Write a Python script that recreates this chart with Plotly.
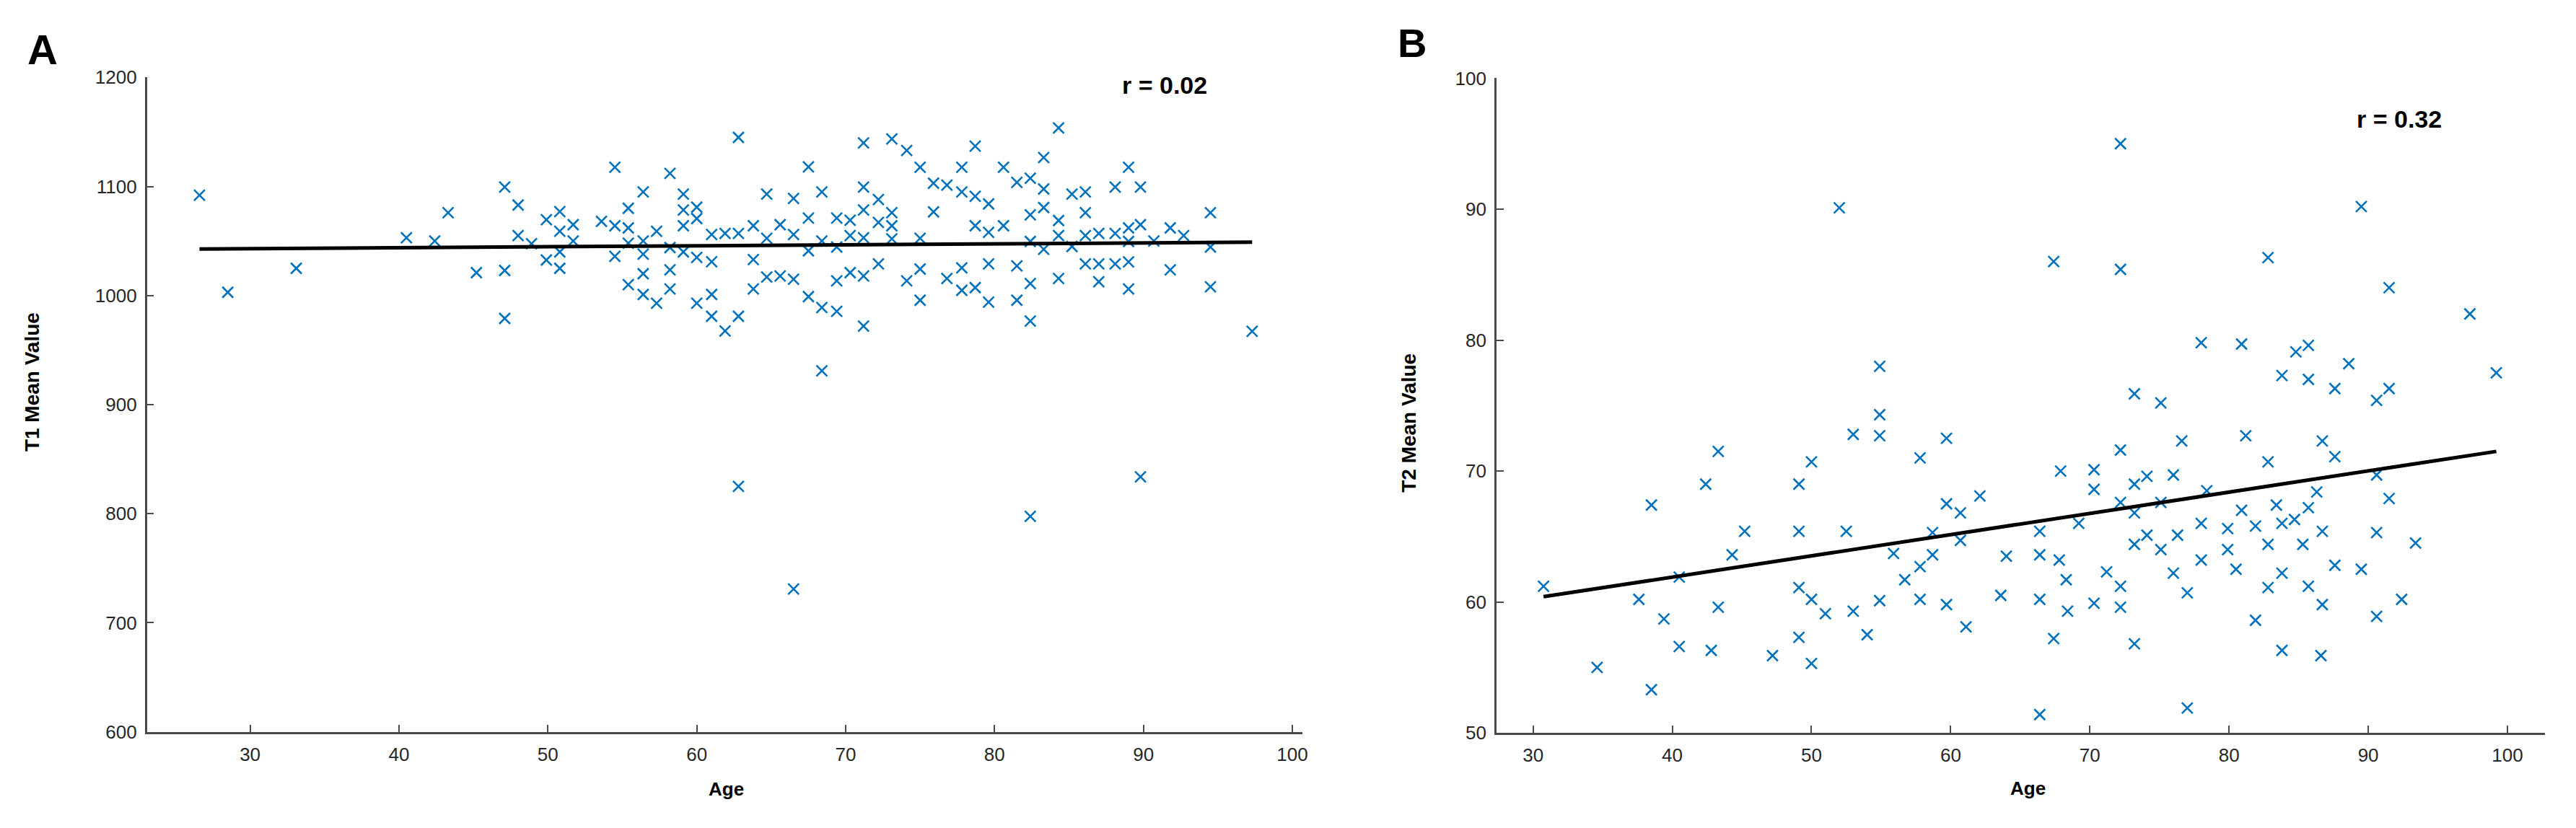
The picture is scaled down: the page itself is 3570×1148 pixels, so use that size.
import plotly.graph_objects as go

W, H = 3570, 1148

# panel A: age vs T1 mean value
age_a = [
    26.6, 28.5, 33.1, 40.5, 42.4, 43.3, 45.2, 47.1, 47.1, 47.1, 48.0, 48.0, 48.9,
    49.9, 49.9, 50.8, 50.8, 50.8, 50.8, 51.7, 51.7, 53.6, 54.5, 54.5, 54.5,
    55.4, 55.4, 55.4, 55.4, 56.4, 56.4, 56.4, 56.4, 56.4, 57.3, 57.3,
    58.2, 58.2, 58.2, 58.2, 59.1, 59.1, 59.1, 59.1, 60.0, 60.0, 60.0, 60.0,
    61.0, 61.0, 61.0, 61.0, 61.9, 61.9, 62.8, 62.8, 62.8, 62.8,
    63.8, 63.8, 63.8, 64.7, 64.7, 64.7, 65.6, 65.6, 66.5, 66.5, 66.5, 66.5,
    67.5, 67.5, 67.5, 67.5, 68.4, 68.4, 68.4, 68.4, 69.4, 69.4, 69.4, 69.4,
    70.3, 70.3, 70.3, 71.2, 71.2, 71.2, 71.2, 71.2, 71.2, 72.2, 72.2, 72.2,
    73.1, 73.1, 73.1, 73.1, 74.1, 74.1, 75.0, 75.0, 75.0, 75.0, 75.9, 75.9,
    76.8, 76.8, 77.8, 77.8, 77.8, 77.8, 78.7, 78.7, 78.7, 78.7,
    79.6, 79.6, 79.6, 79.6, 80.6, 80.6, 81.5, 81.5, 81.5,
    82.4, 82.4, 82.4, 82.4, 82.4, 82.4, 83.3, 83.3, 83.3, 83.3,
    84.3, 84.3, 84.3, 84.3, 85.2, 85.2, 86.1, 86.1, 86.1, 86.1,
    87.0, 87.0, 87.0, 88.1, 88.1, 88.1, 89.0, 89.0, 89.0, 89.0, 89.0,
    89.8, 89.8, 89.8, 90.7, 91.8, 91.8, 92.7, 94.5, 94.5, 94.5, 97.3,
]
t1_a = [
    1092, 1003, 1025, 1053, 1050, 1076, 1021, 1099.5, 1023, 979, 1083, 1055, 1047.5,
    1069.5, 1032.6, 1077, 1059, 1040, 1025, 1065, 1050, 1068, 1117.6, 1064, 1036,
    1080, 1062, 1048, 1010, 1095, 1050, 1038, 1020, 1001, 1059, 993,
    1112, 1044, 1023.6, 1006, 1093, 1078.5, 1064, 1040, 1081, 1070.6, 1035, 993,
    1056, 1031, 1001, 981, 1057, 967.5, 1145, 1057, 981, 825,
    1064, 1033, 1006, 1093, 1052.5, 1017, 1065, 1018, 1089, 1056, 1015, 731,
    1118, 1071, 1041, 999, 1095, 1050, 989, 931, 1071, 1044.5, 1013.5, 985.6,
    1069, 1055, 1021, 1140, 1099.5, 1078.5, 1053, 1018, 972, 1088, 1067, 1029,
    1143.6, 1076, 1064, 1052, 1133, 1013.5, 1117.6, 1052.5, 1024.3, 995.7, 1103, 1076.7,
    1101.3, 1015.6, 1117.6, 1095, 1025.4, 1004.8, 1137, 1091, 1064, 1007.3,
    1084, 1058, 1029, 994, 1117.6, 1064, 1103.8, 1027.2, 995.7,
    1107.5, 1074, 1049.6, 1011, 976.6, 797.6, 1126.6, 1097.7, 1080.7, 1042.4,
    1153.7, 1068.8, 1055, 1015.6, 1093, 1045, 1095, 1076, 1055, 1029,
    1057, 1029, 1012.7, 1099.5, 1057, 1029, 1117.6, 1062, 1049.6, 1030.8, 1006,
    1099.5, 1065, 833.8, 1050, 1062, 1023.6, 1055, 1076, 1044.5, 1008, 967.2,
]
fit_age_a = [26.6, 97.3]
fit_t1_a = [1042.7, 1048.9]

# panel B: age vs T2 mean value
age_b = [
    30.75, 34.6, 37.6, 38.5, 38.5, 39.4, 40.5, 40.5, 42.4, 42.8, 43.3, 43.3,
    44.3, 45.2, 47.2, 49.1, 49.1, 49.1, 49.1, 50.0, 50.0, 50.0, 51.0, 52.0,
    52.5, 53.0, 53.0, 54.0, 54.9, 54.9, 54.9, 54.9, 55.9, 56.7, 57.8, 57.8,
    57.8, 58.7, 58.7, 59.7, 59.7, 59.7, 60.7, 60.7, 61.1, 62.1, 63.6, 64.0,
    66.4, 66.4, 66.4, 66.4, 67.4, 67.4, 67.8, 67.9, 68.3, 68.4, 69.2,
    70.3, 70.3, 70.3, 71.2, 72.2, 72.2, 72.2, 72.2, 72.2, 72.2,
    73.2, 73.2, 73.2, 73.2, 73.2, 74.1, 74.1, 75.1, 75.1, 75.1,
    76.0, 76.0, 76.3, 76.6, 77.0, 77.0, 78.0, 78.0, 78.0, 78.4,
    79.9, 79.9, 80.5, 80.9, 80.9, 81.2, 81.9, 81.9, 82.8, 82.8, 82.8, 82.8,
    83.4, 83.8, 83.8, 83.8, 83.8, 84.7, 84.8, 85.3, 85.7, 85.7, 85.7, 85.7,
    86.3, 86.7, 86.7, 86.7, 86.6, 87.6, 87.6, 87.6, 88.6, 89.5, 89.5,
    90.6, 90.6, 90.6, 90.6, 91.5, 91.5, 91.5, 92.4, 93.4, 97.3, 99.2,
]
t2_b = [
    61.2, 55.0, 60.2, 67.4, 53.3, 58.7, 61.9, 56.6, 69.0, 56.3, 71.5, 59.6,
    63.6, 65.4, 55.9, 69.0, 65.4, 61.1, 57.3, 70.7, 60.2, 55.3, 59.1, 90.1,
    65.4, 72.8, 59.3, 57.5, 78.0, 74.3, 72.7, 60.1, 63.7, 61.7, 71.0, 62.7,
    60.2, 65.3, 63.6, 72.5, 67.5, 59.8, 66.8, 64.7, 58.1, 68.1, 60.5, 63.5,
    65.4, 63.6, 60.2, 51.4, 86.0, 57.2, 63.2, 70.0, 61.7, 59.3, 66.0,
    70.1, 68.6, 59.9, 62.3, 95.0, 85.4, 71.6, 67.6, 61.2, 59.6,
    75.9, 69.0, 66.8, 64.4, 56.8, 69.6, 65.1, 75.2, 67.6, 64.0,
    69.7, 62.2, 65.1, 72.3, 60.7, 51.9, 79.8, 66.0, 63.2, 68.5,
    65.6, 64.0, 62.5, 79.7, 67.0, 72.7, 65.8, 58.6, 86.3, 70.7, 64.4, 61.1,
    67.4, 77.3, 66.0, 62.2, 56.3, 66.3, 79.1, 64.4, 79.6, 77.0, 67.2, 61.2,
    68.4, 72.3, 65.4, 59.8, 55.9, 76.3, 71.1, 62.8, 78.2, 90.2, 62.5,
    75.4, 69.7, 65.3, 58.9, 84.0, 76.3, 67.9, 60.2, 64.5, 82.0, 77.5,
]
fit_age_b = [30.75, 99.2]
fit_t2_b = [60.4, 71.5]

x_ticks = [30, 40, 50, 60, 70, 80, 90, 100]
y_ticks_a = [600, 700, 800, 900, 1000, 1100, 1200]
y_ticks_b = [50, 60, 70, 80, 90, 100]

BLUE = "#0072BD"
AXIS = "#4a4a4a"
TEXT = "#262626"


def px(x, y):
    # pixel position on the page -> paper coords
    return x / W, 1 - y / H


def axis_style(**kw):
    d = dict(
        showline=True, linecolor=AXIS, linewidth=2.5, mirror=False,
        ticks="inside", ticklen=10, tickwidth=2, tickcolor=AXIS,
        showgrid=False, zeroline=False, ticklabelstandoff=6,
        tickfont=dict(family="Liberation Sans, Arial", size=26, color=TEXT),
    )
    d.update(kw)
    return d


marker = dict(symbol="x-thin", size=15, color=BLUE, line=dict(width=2.6, color=BLUE))

fig = go.Figure()
fig.add_trace(go.Scatter(x=age_a, y=t1_a, mode="markers", marker=marker,
                         xaxis="x", yaxis="y", showlegend=False))
fig.add_trace(go.Scatter(x=fit_age_a, y=fit_t1_a, mode="lines",
                         line=dict(color="black", width=5),
                         xaxis="x", yaxis="y", showlegend=False))
fig.add_trace(go.Scatter(x=age_b, y=t2_b, mode="markers", marker=marker,
                         xaxis="x2", yaxis="y2", showlegend=False))
fig.add_trace(go.Scatter(x=fit_age_b, y=fit_t2_b, mode="lines",
                         line=dict(color="black", width=5),
                         xaxis="x2", yaxis="y2", showlegend=False))

fig.update_layout(
    width=W, height=H,
    margin=dict(l=0, r=0, t=0, b=0),
    paper_bgcolor="white", plot_bgcolor="white",
    xaxis=axis_style(domain=[204 / W, 1809 / W], range=[23.07, 100.7],
                     tickvals=x_ticks, anchor="y"),
    yaxis=axis_style(domain=[1 - 1026.5 / H, 1 - 94.8 / H], range=[600, 1200],
                     tickvals=y_ticks_a, anchor="x"),
    xaxis2=axis_style(domain=[2078 / W, 3534 / W], range=[27.37, 102.7],
                      tickvals=x_ticks, anchor="y2"),
    yaxis2=axis_style(domain=[1 - 1028 / H, 1 - 96 / H], range=[50, 100],
                      tickvals=y_ticks_b, anchor="x2"),
)

bold = "Liberation Sans, Arial"
notes = [
    ("A", 59, 55, 58, 0),
    ("B", 1961, 46, 56, 0),
    ("r = 0.02", 1617, 106, 34, 0),
    ("r = 0.32", 3332, 154, 34, 0),
    ("Age", 1008, 1108, 26, 0),
    ("Age", 2816, 1107, 26, 0),
    ("T1 Mean Value", 44, 528, 28, -90),
    ("T2 Mean Value", 1956, 587, 28, -90),
]
for text, x, y, size, angle in notes:
    ax, ay = px(x, y)
    fig.add_annotation(
        text="<b>" + text + "</b>", x=ax, y=ay, xref="paper", yref="paper",
        xanchor="center", yanchor="middle", showarrow=False, textangle=angle,
        font=dict(family=bold, size=size, color="black"),
    )

fig.write_html(
    "out.html",
    config={"displayModeBar": False},
    post_script="document.body.style.margin='0';document.body.style.overflow='hidden';",
)
